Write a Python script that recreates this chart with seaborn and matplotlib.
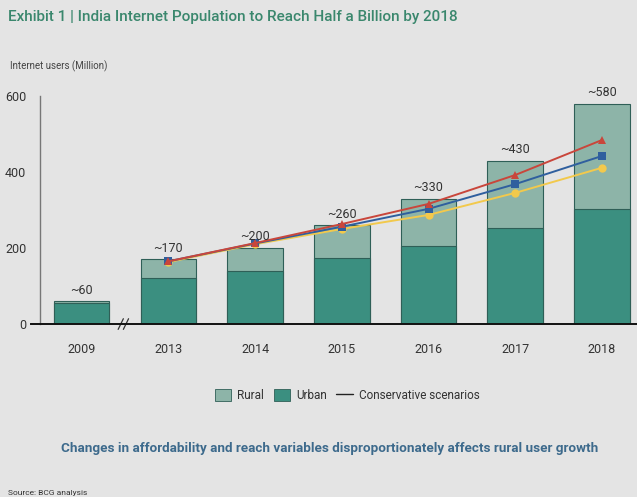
import numpy as np
import pandas as pd
import matplotlib
matplotlib.use("Agg")
import matplotlib.pyplot as plt
import seaborn as sns
from matplotlib.patches import Patch
from matplotlib.lines import Line2D

# Internet users in India (million)
years = ["2009", "2013", "2014", "2015", "2016", "2017", "2018"]
totals = [60, 170, 200, 260, 330, 430, 580]
urban = [55, 120, 140, 174, 205, 253, 303]
total_labels = ["~60", "~170", "~200", "~260", "~330", "~430", "~580"]

# Conservative scenarios (2013 onwards)
scenario_years = ["2013", "2014", "2015", "2016", "2017", "2018"]
scenario_high = [165, 213, 263, 316, 392, 484]
scenario_mid = [165, 212, 256, 303, 368, 442]
scenario_low = [163, 210, 250, 287, 345, 411]

BG = "#e4e4e4"
RURAL = "#8db4a8"
URBAN = "#3b8f80"
EDGE = "#2f5f57"

sns.set_theme(style="white")
plt.rcParams["font.family"] = ["Roboto", "DejaVu Sans"]

fig = plt.figure(figsize=(6.37, 4.97), dpi=100, facecolor=BG)
ax = fig.add_axes([0.063, 0.348, 0.95, 0.459], facecolor=BG)

df = pd.DataFrame({"year": years, "total": totals, "urban": urban})

sns.barplot(data=df, x="year", y="total", order=years, color=RURAL,
            saturation=1, width=0.64, edgecolor=EDGE, linewidth=0.8, ax=ax)
sns.barplot(data=df, x="year", y="urban", order=years, color=URBAN,
            saturation=1, width=0.64, edgecolor=EDGE, linewidth=0.8, ax=ax)

for i, (t, lab) in enumerate(zip(totals, total_labels)):
    ax.text(i, t + 12, lab, ha="center", va="bottom", fontsize=9,
            color="#333333", clip_on=False)

pos = [years.index(y) for y in scenario_years]
sdf = pd.DataFrame({
    "pos": pos * 3,
    "users": scenario_low + scenario_mid + scenario_high,
    "scenario": ["low"] * 6 + ["mid"] * 6 + ["high"] * 6,
})
palette = {"low": "#f2c94c", "mid": "#2f5f9e", "high": "#c9463b"}
markers = {"low": "o", "mid": "s", "high": "^"}
sns.lineplot(data=sdf, x="pos", y="users", hue="scenario", style="scenario",
             palette=palette, markers=markers, dashes=False, markersize=6,
             markeredgewidth=0, linewidth=1.4, legend=False, ax=ax)

ax.set_xlim(-0.48, 6.5)
ax.set_ylim(0, 600)
ax.set_yticks([0, 200, 400, 600])
ax.set_xticks(range(len(years)))
ax.set_xticklabels(years)
ax.set_xlabel("")
ax.set_ylabel("")
ax.tick_params(axis="both", length=0, labelsize=9, colors="#333333")
ax.tick_params(axis="x", pad=14)
ax.tick_params(axis="y", pad=10)

for s in ["top", "right"]:
    ax.spines[s].set_visible(False)
ax.spines["left"].set_color("#777777")
ax.spines["left"].set_linewidth(1.0)
ax.spines["bottom"].set_color("#111111")
ax.spines["bottom"].set_linewidth(1.4)
ax.spines["bottom"].set_bounds(-0.58, 6.5)

# axis break marks between 2009 and 2013
for dx in (-0.03, 0.03):
    ax.plot([0.48 + dx - 0.03, 0.48 + dx + 0.03], [-14, 14], color="#333333",
            linewidth=0.9, clip_on=False)

fig.text(0.013, 0.966, "Exhibit 1 | India Internet Population to Reach Half a Billion by 2018",
         fontsize=11, fontweight="medium", color="#3a876d", ha="left", va="center")
fig.text(0.016, 0.866, "Internet users (Million)", fontsize=7, color="#444444",
         ha="left", va="center")

handles = [
    Patch(facecolor=RURAL, edgecolor=EDGE, linewidth=0.6, label="Rural"),
    Patch(facecolor=URBAN, edgecolor=EDGE, linewidth=0.6, label="Urban"),
    Line2D([0], [0], color="#222222", linewidth=1.0, label="Conservative scenarios"),
]
fig.legend(handles=handles, loc="center", bbox_to_anchor=(0.545, 0.205), ncol=3,
           frameon=False, fontsize=8.5, handlelength=1.4, handleheight=1.2,
           columnspacing=0.8, handletextpad=0.5, labelcolor="#333333")

fig.text(0.518, 0.098,
         "Changes in affordability and reach variables disproportionately affects rural user growth",
         fontsize=9.7, fontweight="bold", color="#3d6a8c", ha="center", va="center")
fig.text(0.013, 0.008, "Source: BCG analysis", fontsize=6, color="#333333",
         ha="left", va="center")

fig.savefig("out.png", dpi=100, facecolor=BG)
